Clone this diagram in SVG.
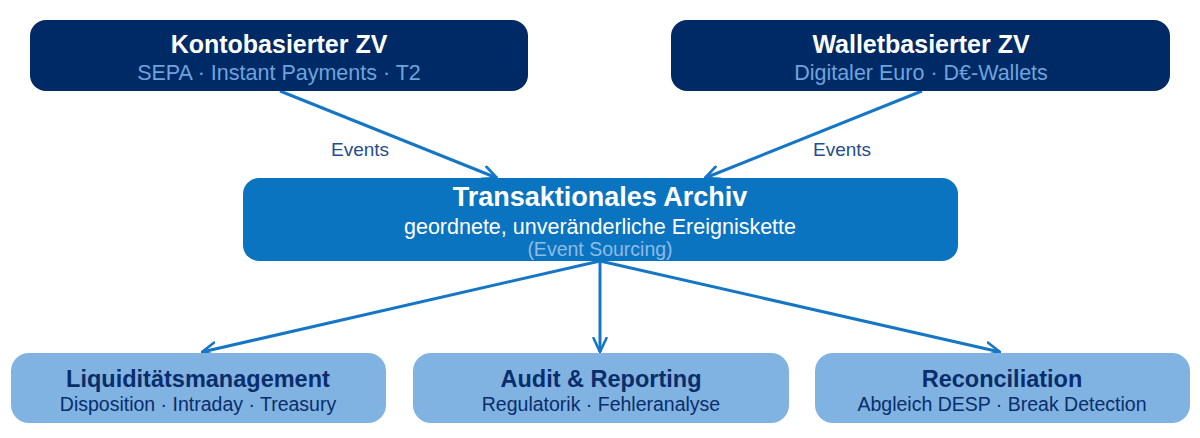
<svg xmlns="http://www.w3.org/2000/svg" width="1200" height="438" viewBox="0 0 1200 438">
<defs>
<style>
text{font-family:"Liberation Sans",Arial,sans-serif;text-anchor:middle}
.top rect{fill:#002a66}
.top .t{fill:#fff;font-weight:bold;font-size:25px}
.top .s{fill:#6fa3dc;font-size:21.5px}
.mid rect{fill:#0b74c0}
.mid .t{fill:#fff;font-weight:bold;font-size:27px}
.mid .s{fill:#fff;font-size:21.5px}
.mid .n{fill:#8fbbe6;font-size:19.5px}
.bot rect{fill:#80b3e1}
.bot .t{fill:#0a2d6b;font-weight:bold;font-size:23.5px}
.bot .s{fill:#0a2d6b;font-size:19.5px}
.edge{stroke:#1676c6;stroke-width:3;fill:none}
.lbl{fill:#1f4e8c;font-size:19px}
</style>
<marker id="arr" viewBox="0 0 16 16" refX="15" refY="8" markerWidth="16" markerHeight="16" markerUnits="userSpaceOnUse" orient="auto">
<path d="M1,1.5 L15,8 L1,14.5" fill="none" stroke="#1676c6" stroke-width="2.6" stroke-linecap="round" stroke-linejoin="round"/>
</marker>
</defs>
<rect width="1200" height="438" fill="#fff"/>
<g id="connectors">
<line class="edge" x1="280" y1="91" x2="497" y2="178" marker-end="url(#arr)"/>
<line class="edge" x1="922" y1="91" x2="705" y2="178" marker-end="url(#arr)"/>
<line class="edge" x1="600" y1="261" x2="202" y2="352" marker-end="url(#arr)"/>
<line class="edge" x1="600" y1="261" x2="600" y2="352" marker-end="url(#arr)"/>
<line class="edge" x1="600" y1="261" x2="1000" y2="352" marker-end="url(#arr)"/>
<text class="lbl" x="360" y="156">Events</text>
<text class="lbl" x="842" y="156">Events</text>
</g>
<g id="konto" class="top">
<rect x="30" y="20" width="498" height="71" rx="16"/>
<text class="t" x="279" y="53">Kontobasierter ZV</text>
<text class="s" x="279" y="80">SEPA · Instant Payments · T2</text>
</g>
<g id="wallet" class="top">
<rect x="671" y="20" width="499" height="71" rx="16"/>
<text class="t" x="921" y="53">Walletbasierter ZV</text>
<text class="s" x="921" y="80">Digitaler Euro · D€-Wallets</text>
</g>
<g id="archiv" class="mid">
<rect x="243" y="178" width="715" height="83" rx="16"/>
<text class="t" x="600" y="206">Transaktionales Archiv</text>
<text class="s" x="600" y="234">geordnete, unveränderliche Ereigniskette</text>
<text class="n" x="600" y="256">(Event Sourcing)</text>
</g>
<g id="liquiditaet" class="bot">
<rect x="11" y="353" width="375" height="70" rx="18"/>
<text class="t" x="198" y="387">Liquiditätsmanagement</text>
<text class="s" x="198" y="411">Disposition · Intraday · Treasury</text>
</g>
<g id="audit" class="bot">
<rect x="413" y="353" width="376" height="70" rx="18"/>
<text class="t" x="601" y="387">Audit &amp; Reporting</text>
<text class="s" x="601" y="411">Regulatorik · Fehleranalyse</text>
</g>
<g id="reconciliation" class="bot">
<rect x="815" y="353" width="375" height="70" rx="18"/>
<text class="t" x="1002" y="387">Reconciliation</text>
<text class="s" x="1002" y="411">Abgleich DESP · Break Detection</text>
</g>
</svg>
